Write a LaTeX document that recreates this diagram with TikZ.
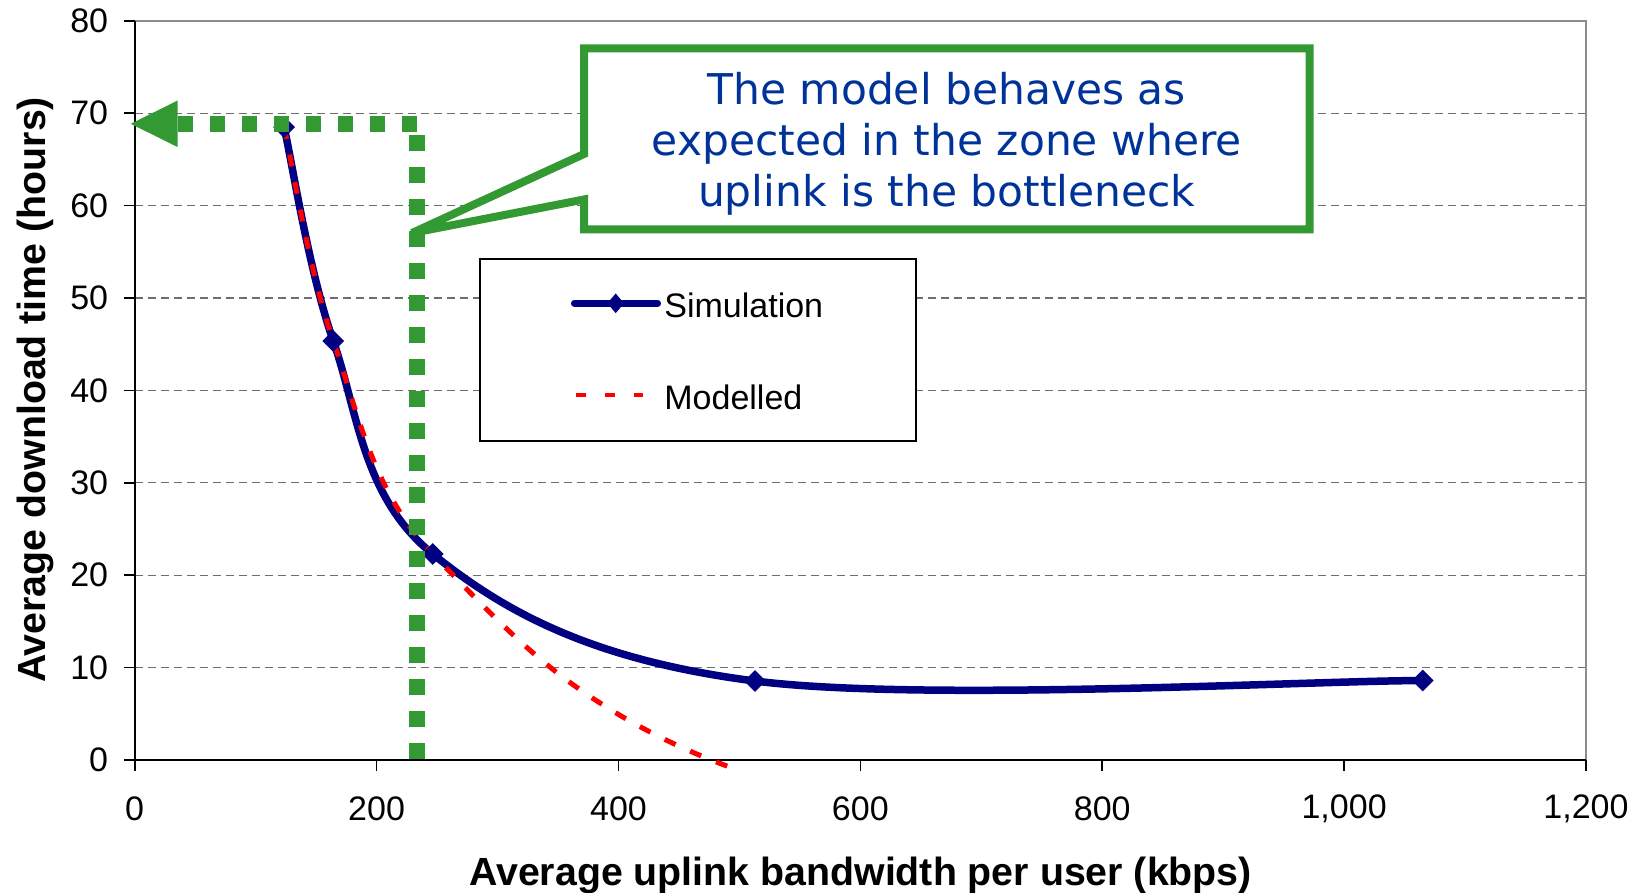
\documentclass[tikz,border=0pt]{standalone}
\usepackage{fontspec}
\setmainfont{Liberation Sans}
\newfontfamily\calloutfont{DejaVu Sans}
\usetikzlibrary{arrows.meta,shapes.geometric}

\definecolor{simblue}{RGB}{0,0,128}
\definecolor{annogreen}{RGB}{51,153,51}
\definecolor{notetext}{RGB}{0,51,153}
\definecolor{gridgray}{RGB}{110,110,110}
\definecolor{framegray}{RGB}{140,140,140}

\begin{document}
\begin{tikzpicture}[x=0.5pt,y=-0.5pt,
  ticklabel/.style={font=\fontsize{17}{20}\selectfont, inner sep=0pt},
  axistitle/.style={font=\fontsize{19.65}{23}\selectfont\bfseries, inner sep=0pt},
  gridline/.style={gridgray, line width=0.6pt, dash pattern=on 4.15pt off 2.35pt},
  axisline/.style={black, line width=0.9pt},
  tickline/.style={black, line width=0.8pt},
  frameline/.style={framegray, line width=0.9pt},
  simline/.style={simblue, line width=3.75pt, line join=round},
  modline/.style={red, line width=2.5pt, dash pattern=on 6pt off 8pt},
  simmark/.style={diamond, fill=simblue, inner sep=0pt, minimum width=11pt, minimum height=11pt},
  legendbox/.style={draw=black, fill=white, line width=0.75pt, inner sep=0pt},
  callout/.style={draw=annogreen, fill=white, line width=4pt, line join=miter, miter limit=3},
  guide/.style={annogreen, line width=7.85pt, dash pattern=on 7.85pt off 8.15pt},
]
\useasboundingbox (0,0) rectangle (1637,893);

% ---------- plot area in data units (kbps, hours) ----------
\begin{scope}[shift={(134.7,760)}, x=0.6047pt, y=4.6195pt]
  % horizontal grid
  \foreach \h in {10,20,...,70}
    \draw[gridline] (0,\h) -- (1200,\h);
  % plot frame and axes
  \draw[frameline] (0,80) -- (1200,80) -- (1200,0);
  \draw[axisline] (0,80) -- (0,0) -- (1200,0);
  % y ticks and labels
  \foreach \h in {0,10,...,80} {
    \draw[tickline] (0,\h) -- ++(-5.5pt,0);
    \node[ticklabel, anchor=east] (ylab\h) at ([xshift=-13.1pt]0,\h) {\h};
  }
  % x ticks and labels
  \foreach \k/\txt in {0/0,200/200,400/400,600/600,800/800,1000/{1,000},1200/{1,200}} {
    \draw[tickline] (\k,0) -- ++(0,-5.5pt);
    \node[ticklabel] (xlab\k) at ([yshift=-24.5pt]\k,0) {\txt};
  }

  % simulation points
  \coordinate (p1) at (123.5,68.5);
  \coordinate (p2) at (164.2,45.35);
  \coordinate (p3) at (246.4,22.3);
  \coordinate (p4) at (512.9,8.55);
  \coordinate (p5) at (1065,8.6);
  % modelled curve: mid point and end point
  \coordinate (q1) at (351.7,9.2);
  \coordinate (q2) at (497,-1.0);
\end{scope}

% axis titles
\node[axistitle, anchor=base] (xtitle) at (860.6,885) {Average uplink bandwidth per user (kbps)};
\node[axistitle, anchor=base, rotate=90] (ytitle) at (46,390) {Average download time (hours)};

% legend
\node[legendbox, minimum width=218pt, minimum height=91pt] (legend) at (698,350) {};
\coordinate (legsimA) at (574.3,303.3);
\coordinate (legsimB) at (657.7,303.3);
\draw[simblue, line width=3.35pt, line cap=round] (legsimA) -- (legsimB);
\node[diamond, fill=simblue, inner sep=0pt, minimum width=8.5pt, minimum height=10pt] (legmark) at (615.7,303.3) {};
\coordinate (legmodA) at (575.7,395);
\coordinate (legmodB) at (642.7,395);
\draw[red, line width=2.35pt, dash pattern=on 5pt off 9.5pt] (legmodA) -- (legmodB);
\node[ticklabel, anchor=base west] (legsimtxt) at (664,317.3) {Simulation};
\node[ticklabel, anchor=base west] (legmodtxt) at (664,409.3) {Modelled};

% callout box with pointer
\coordinate (tailtop) at (584,154);
\coordinate (tailbot) at (584,199.5);
\coordinate (tailtip) at (412,233);
\draw[callout] (tailtop) -- (584,48.5) -- (1309.5,48.5) -- (1309.5,229.5)
  -- (584,229.5) -- (tailbot) -- (tailtip) -- cycle;
\node[font=\calloutfont\fontsize{21.2}{25.5}\selectfont, text=notetext, align=center, inner sep=0pt]
  (note) at (946.75,144) {The model behaves as\\expected in the zone where\\uplink is the bottleneck};

% simulation curve (smoothed through the points)
\draw[simline] (p1) .. controls (292.26,162.78) and (308.51,269.87) .. (p2)
  .. controls (358.05,412.15) and (362.41,497.30) .. (p3)
  .. controls (502.99,610.64) and (590.0,659.91) .. (p4)
  .. controls (920.0,702.11) and (1311.42,680.62) .. (p5);
% modelled curve
\draw[modline] (p1) .. controls (292.26,162.78) and (308.51,269.87) .. (p2)
  .. controls (358.05,412.15) and (372.7,492) .. (p3)
  .. controls (473.1,595.6) and (514.0,639.7) .. (q1)
  .. controls (612.85,715.4) and (673.1,746.9) .. (q2);
% markers
\foreach \i in {1,...,5}
  \node[simmark] (m\i) at (p\i) {};

% dotted guide with arrow to the axis
\coordinate (corner) at (417.3,123.8);
\coordinate (tip) at (130.7,123.8);
\coordinate (foot) at (417.3,760);
\draw[guide, -{Triangle[length=23.5pt, width=23.3pt, line width=0pt]}] (corner) -- (tip);
\draw[guide, dash phase=10.25pt] (corner) -- (foot);
\end{tikzpicture}
\end{document}
